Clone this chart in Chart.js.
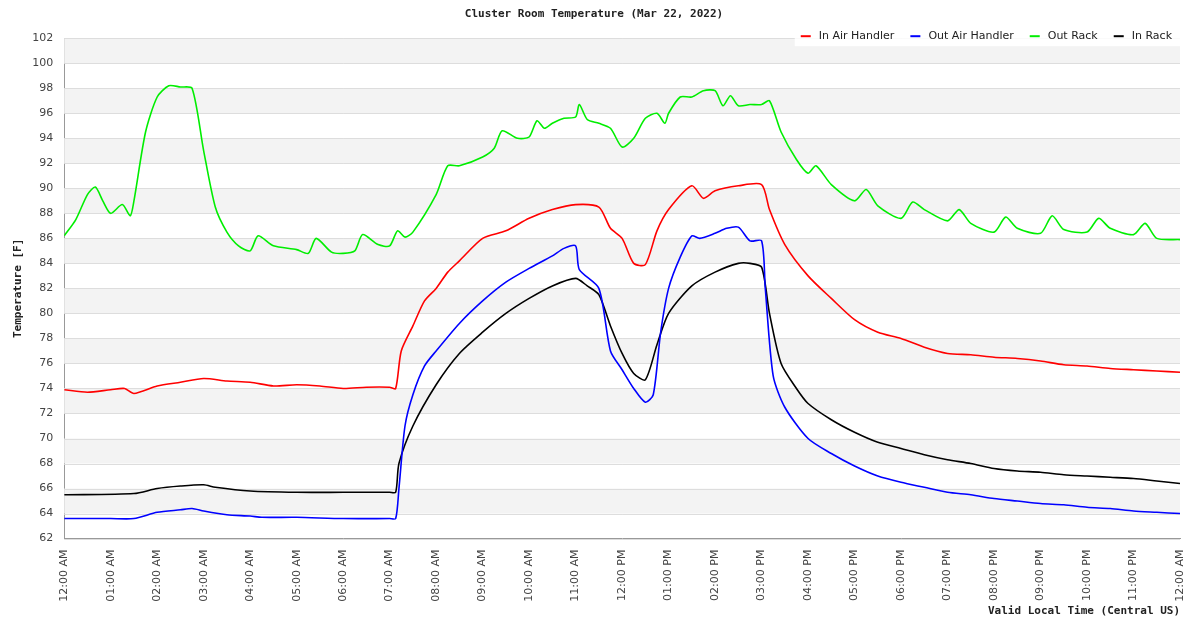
<!DOCTYPE html>
<html><head><meta charset="utf-8">
<script src="https://cdn.jsdelivr.net/npm/chart.js@4"></script>
<style>html,body{margin:0;background:#fff}#w{width:1200px;height:628px}</style>
</head><body><div id="w"><canvas id="c"></canvas></div>
<script>
const seriesNames = ["In Air Handler","Out Air Handler","Out Rack","In Rack"];
const seriesColors = ["#ff0000","#0000ff","#00ee00","#000000"];
const yTicks = [62,64,66,68,70,72,74,76,78,80,82,84,86,88,90,92,94,96,98,100,102];
const xTickHours = [0,1,2,3,4,5,6,7,8,9,10,11,12,13,14,15,16,17,18,19,20,21,22,23,24];
// times in hours since midnight
const inAirT = [0,0.5,1,1.3,1.5,2,2.5,3,3.5,4,4.5,5,5.5,6,6.5,7,7.13,7.25,7.5,7.75,8,8.25,8.5,9,9.5,10,10.5,11,11.5,11.75,12,12.25,12.5,12.75,13,13.5,13.75,14,14.5,15,15.17,15.5,16,16.5,17,17.5,18,18.5,19,19.5,20,20.5,21,21.5,22,22.5,23,23.5,24];
const inAirV = [73.9,73.7,73.9,74.0,73.6,74.2,74.5,74.8,74.6,74.5,74.2,74.3,74.2,74.0,74.1,74.1,74.0,77.0,79.0,81.0,82.0,83.3,84.2,86.0,86.6,87.6,88.3,88.7,88.5,86.8,86.0,84.0,83.9,86.6,88.3,90.2,89.2,89.8,90.2,90.3,88.3,85.5,83.0,81.2,79.5,78.5,78.0,77.3,76.8,76.7,76.5,76.4,76.2,75.9,75.8,75.6,75.5,75.4,75.3];
const outAirT = [0,1,1.5,2,2.5,2.75,3,3.5,4,4.25,5,6,7,7.13,7.2,7.33,7.5,7.75,8,8.5,9,9.5,10,10.5,10.75,11,11.08,11.5,11.75,12,12.25,12.5,12.67,12.83,13,13.25,13.5,13.67,14,14.25,14.5,14.75,15,15.08,15.25,15.5,16,16.5,17,17.5,18,18.5,19,19.5,20,20.5,21,21.5,22,22.5,23,23.5,24];
const outAirV = [63.6,63.6,63.6,64.1,64.3,64.4,64.2,63.9,63.8,63.7,63.7,63.6,63.6,63.6,66.0,71.0,73.5,75.8,77.0,79.2,81.0,82.5,83.6,84.6,85.2,85.4,83.5,82.0,77.0,75.5,74.0,72.9,73.5,78.5,82.0,84.5,86.2,86.0,86.4,86.8,86.9,85.8,85.8,82.0,75.0,72.5,70.0,68.8,67.8,67.0,66.5,66.1,65.7,65.5,65.2,65.0,64.8,64.7,64.5,64.4,64.2,64.1,64.0];
const outRackT = [0,0.25,0.5,0.67,0.83,1,1.25,1.42,1.5,1.75,2,2.25,2.5,2.75,3,3.25,3.5,3.75,4,4.17,4.5,5,5.25,5.42,5.75,6,6.25,6.42,6.75,7,7.17,7.33,7.5,8,8.25,8.5,9,9.25,9.42,9.75,10,10.17,10.33,10.5,10.75,11,11.08,11.25,11.5,11.75,12,12.25,12.5,12.75,12.92,13,13.25,13.5,13.75,14,14.17,14.33,14.5,14.75,15,15.17,15.42,15.75,16,16.17,16.5,17,17.25,17.5,18,18.25,18.5,19,19.25,19.5,20,20.25,20.5,21,21.25,21.5,22,22.25,22.5,23,23.25,23.5,24];
const outRackV = [86.2,87.5,89.5,90.1,89.0,88.0,88.7,87.8,89.0,94.5,97.3,98.2,98.1,98.0,93.0,88.5,86.5,85.4,85.0,86.2,85.4,85.1,84.8,86.0,84.9,84.8,85.0,86.3,85.5,85.4,86.6,86.1,86.5,89.5,91.8,91.8,92.5,93.2,94.6,94.0,94.1,95.4,94.8,95.2,95.6,95.7,96.7,95.5,95.2,94.8,93.3,94.0,95.6,96.0,95.2,96.0,97.3,97.3,97.8,97.8,96.6,97.4,96.6,96.7,96.7,97.0,94.5,92.3,91.2,91.8,90.3,89.0,89.9,88.6,87.6,88.9,88.3,87.4,88.3,87.2,86.5,87.7,86.8,86.4,87.8,86.7,86.5,87.6,86.8,86.3,87.2,86.0,85.9];
const inRackT = [0,1.5,2,2.5,3,3.25,4,5,6,7,7.13,7.2,7.5,8,8.5,9,9.5,10,10.5,11,11.25,11.5,11.75,12,12.25,12.5,12.75,13,13.5,14,14.5,14.75,15,15.17,15.42,15.75,16,16.5,17,17.5,18,18.5,19,19.5,20,20.5,21,21.5,22,22.5,23,23.5,24];
const inRackV = [65.5,65.6,66.0,66.2,66.3,66.1,65.8,65.7,65.7,65.7,65.7,68.0,71.0,74.3,76.8,78.5,80.0,81.2,82.2,82.8,82.2,81.5,79.0,76.8,75.2,74.7,77.5,80.0,82.2,83.3,84.0,84.0,83.7,80.0,76.0,74.0,72.8,71.5,70.5,69.7,69.2,68.7,68.3,68.0,67.6,67.4,67.3,67.1,67.0,66.9,66.8,66.6,66.4];

const toPts=(t,v)=>t.map((x,i)=>({x,y:v[i]}));
const data=[toPts(inAirT,inAirV),toPts(outAirT,outAirV),toPts(outRackT,outRackV),toPts(inRackT,inRackV)];
function fmtHour(h){const hh=h%24;const ap=hh<12?'AM':'PM';let d=hh%12;if(d===0)d=12;return String(d).padStart(2,'0')+':00 '+ap;}
const bands={id:'bands',beforeDatasetsDraw(ch){const {ctx,chartArea:a,scales:{y}}=ch;ctx.save();ctx.fillStyle='#f3f3f3';
for(let i=0;i<yTicks.length-1;i++){if(i%2===1){const t=y.getPixelForValue(yTicks[i+1]),b=y.getPixelForValue(yTicks[i]);ctx.fillRect(a.left,t,a.right-a.left,b-t);}}
ctx.strokeStyle='#dddddd';ctx.lineWidth=1;yTicks.forEach(v=>{const p=Math.round(y.getPixelForValue(v))+0.5;ctx.beginPath();ctx.moveTo(a.left,p);ctx.lineTo(a.right,p);ctx.stroke();});
ctx.restore();}};
const myLegend={id:'myLegend',afterDraw(ch){const {ctx,chartArea:a}=ch;ctx.save();ctx.font='11px "DejaVu Sans"';
const items=seriesNames.map(n=>({n,w:ctx.measureText(n).width}));const gap=16,lw=10,tg=8;
let total=items.reduce((s,it)=>s+lw+tg+it.w+gap,0)-gap+10;
let x=a.right-total;ctx.fillStyle='#fff';ctx.fillRect(x-4,a.top,total+4,8);ctx.fillRect(x-4,a.top-8,total+4,8);
ctx.textBaseline='middle';const yy=a.top-2;x+=2;
items.forEach((it,i)=>{ctx.strokeStyle=seriesColors[i];ctx.lineWidth=2;ctx.beginPath();ctx.moveTo(x,yy);ctx.lineTo(x+lw,yy);ctx.stroke();
ctx.fillStyle='#222';ctx.fillText(it.n,x+lw+tg,yy);x+=lw+tg+it.w+gap;});ctx.restore();}};
new Chart(document.getElementById('c'),{type:'line',
data:{datasets:seriesNames.map((n,i)=>({label:n,data:data[i],borderColor:seriesColors[i],backgroundColor:seriesColors[i],borderWidth:1.6,pointRadius:0,tension:0.25,fill:false}))},
options:{responsive:true,maintainAspectRatio:false,animation:false,
layout:{padding:{left:8,right:20,top:4,bottom:6}},
plugins:{title:{display:true,text:'Cluster Room Temperature (Mar 22, 2022)',font:{family:'DejaVu Sans Mono',size:11,weight:'bold'},color:'#222',padding:{top:4,bottom:17}},
legend:{display:false},tooltip:{enabled:false}},
scales:{x:{type:'linear',min:0,max:24,afterBuildTicks:s=>{s.ticks=xTickHours.map(v=>({value:v}));},
ticks:{callback:v=>fmtHour(v),maxRotation:90,minRotation:90,font:{family:'DejaVu Sans',size:11},color:'#444',autoSkip:false},
grid:{display:false},border:{color:'#999'},
title:{display:true,text:'Valid Local Time (Central US)',align:'end',font:{family:'DejaVu Sans Mono',size:11,weight:'bold'},color:'#222',padding:{top:0}}},
y:{min:62,max:102,afterBuildTicks:s=>{s.ticks=yTicks.map(v=>({value:v}));},
ticks:{font:{family:'DejaVu Sans',size:11},color:'#444'},grid:{display:false},border:{color:'#999'},
title:{display:true,text:'Temperature [F]',font:{family:'DejaVu Sans Mono',size:11,weight:'bold'},color:'#222'}}}},
plugins:[bands,myLegend]});
</script></body></html>
